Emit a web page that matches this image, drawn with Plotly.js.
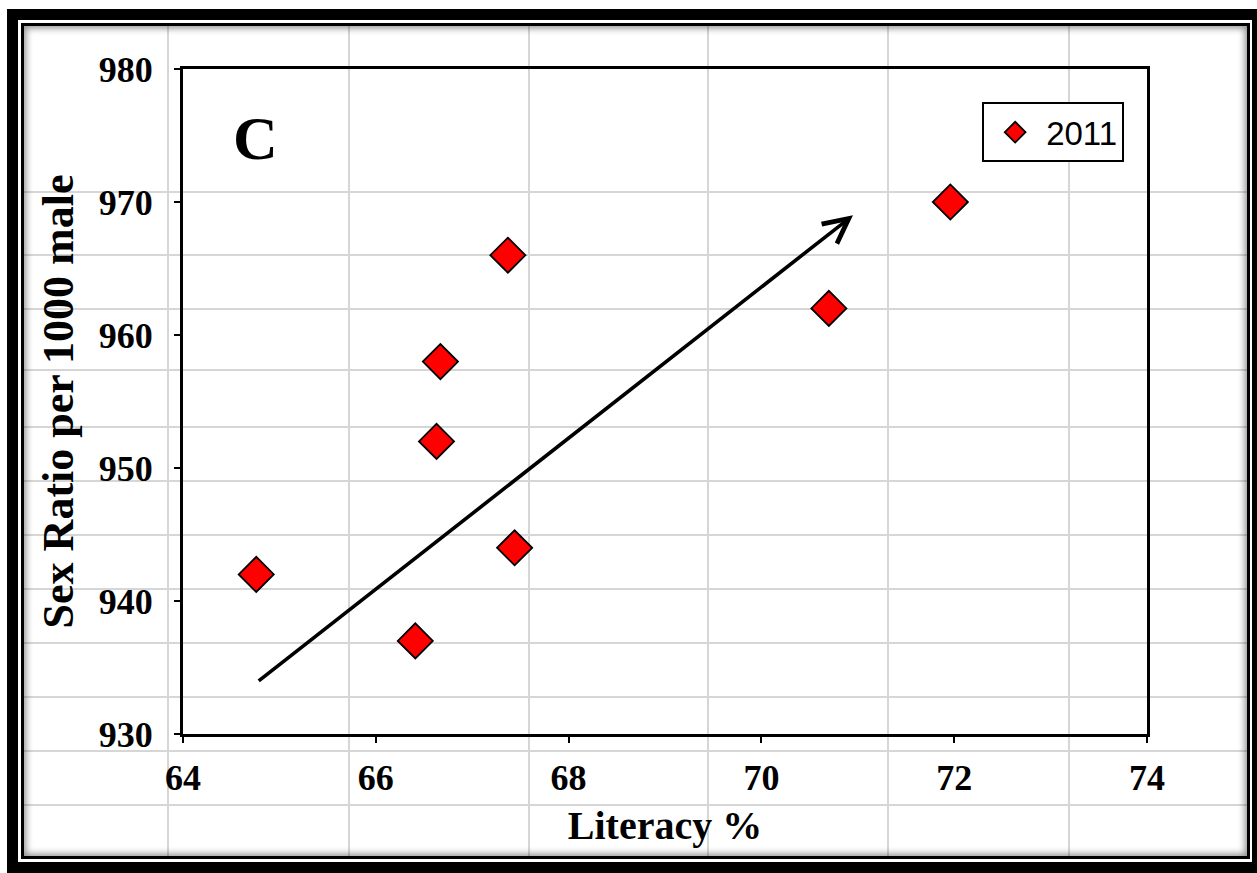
<!DOCTYPE html>
<html>
<head>
<meta charset="utf-8">
<script src="https://cdn.plot.ly/plotly-3.0.1.min.js"></script>
<style>
  html, body { margin: 0; padding: 0; background: #ffffff; }
  #stage { position: relative; width: 1257px; height: 873px; overflow: hidden; background: #ffffff; }
  #bg { position: absolute; left: 0; top: 0; width: 1257px; height: 873px; }
  #chart { position: absolute; left: 0; top: 0; width: 1257px; height: 873px; }
  .gl { position: absolute; background: #d6d6d6; }
  #outer { position: absolute; left: 7px; top: 9px; width: 1250px; height: 864px; box-sizing: border-box;
           border-left: 11px solid #000; border-top: 11px solid #000; border-right: 5px solid #000; border-bottom: 11px solid #000; }
  #inner { position: absolute; left: 21px; top: 23px; width: 1229px; height: 836px; box-sizing: border-box;
           border: 3px solid #000; box-shadow: inset 0 0 7px 2px rgba(0,0,0,0.45); }
</style>
</head>
<body>
<div id="stage">
  <div id="bg"></div>
  <div id="chart"></div>
</div>
<script>
// ---- data ----
const literacy = [64.76, 66.41, 66.63, 66.67, 67.37, 67.44, 70.70, 71.96];
const sexRatio = [942, 937, 952, 958, 966, 944, 962, 970];
const seriesName = "2011";
const xTitle = "Literacy %";
const yTitle = "Sex Ratio per 1000 male";
const panelLabel = "C";
// trend arrow (tail -> head) in data units
const arrowX = [64.77, 70.95];
const arrowY = [933.9, 969.0];

// ---- decorative spreadsheet cell lines and frame (background) ----
const bg = document.getElementById('bg');
const colLines = [168, 349, 529, 708, 888, 1069];
const rowLines = [192, 255, 309, 370, 427, 481, 535, 589, 643, 697, 751, 805];
colLines.forEach(function (x) {
  const d = document.createElement('div'); d.className = 'gl';
  d.style.left = (x - 1) + 'px'; d.style.top = '26px'; d.style.width = '2px'; d.style.height = '830px';
  bg.appendChild(d);
});
rowLines.forEach(function (y) {
  const d = document.createElement('div'); d.className = 'gl';
  d.style.left = '24px'; d.style.top = (y - 1) + 'px'; d.style.height = '2px'; d.style.width = '1223px';
  bg.appendChild(d);
});
const outer = document.createElement('div'); outer.id = 'outer'; bg.appendChild(outer);
const inner = document.createElement('div'); inner.id = 'inner'; bg.appendChild(inner);

// ---- chart ----
const serif = 'Liberation Serif, Times New Roman, serif';
const trace = {
  type: 'scatter', mode: 'markers', name: seriesName,
  x: literacy, y: sexRatio,
  marker: { symbol: 'diamond', size: 27, color: '#ff0000', line: { color: '#000000', width: 1.8 } }
};

const axisCommon = {
  showgrid: false, zeroline: false, showline: true, linecolor: '#000', linewidth: 3, mirror: true,
  ticks: 'outside', ticklen: 6, tickwidth: 2, tickcolor: '#000',
  tickfont: { family: serif, size: 36, weight: 'bold', color: '#000' }
};

const layout = {
  width: 1257, height: 873,
  margin: { l: 183, r: 110, t: 69, b: 139 },
  paper_bgcolor: 'rgba(0,0,0,0)', plot_bgcolor: 'rgba(0,0,0,0)',
  showlegend: true,
  legend: {
    x: 0.829, y: 0.95, xanchor: 'left', yanchor: 'top',
    bgcolor: '#ffffff', bordercolor: '#000', borderwidth: 2,
    font: { family: 'Liberation Sans, Arial, sans-serif', size: 33, color: '#000' },
    itemwidth: 52
  },
  xaxis: Object.assign({}, axisCommon, {
    range: [64, 74], tick0: 64, dtick: 2, ticklabelstandoff: 4,
    title: { text: xTitle, standoff: 14, font: { family: serif, size: 40, weight: 'bold', color: '#000' } }
  }),
  yaxis: Object.assign({}, axisCommon, {
    range: [930, 980], tick0: 930, dtick: 10, ticklabelstandoff: 14,
    title: { text: yTitle, standoff: 12, font: { family: serif, size: 44, weight: 'bold', color: '#000' } }
  }),
  annotations: [
    {
      x: arrowX[1], y: arrowY[1], ax: arrowX[0], ay: arrowY[0],
      xref: 'x', yref: 'y', axref: 'x', ayref: 'y',
      text: '', showarrow: true, arrowhead: 5, arrowsize: 1.35, arrowwidth: 3.6, arrowcolor: '#000', standoff: 0
    },
    {
      x: 0.0757, y: 0.896, xref: 'paper', yref: 'paper', xanchor: 'center', yanchor: 'middle',
      text: panelLabel, showarrow: false,
      font: { family: serif, size: 62, weight: 'bold', color: '#000' }
    }
  ]
};

Plotly.newPlot('chart', [trace], layout, { displayModeBar: false, staticPlot: true });
</script>
</body>
</html>
